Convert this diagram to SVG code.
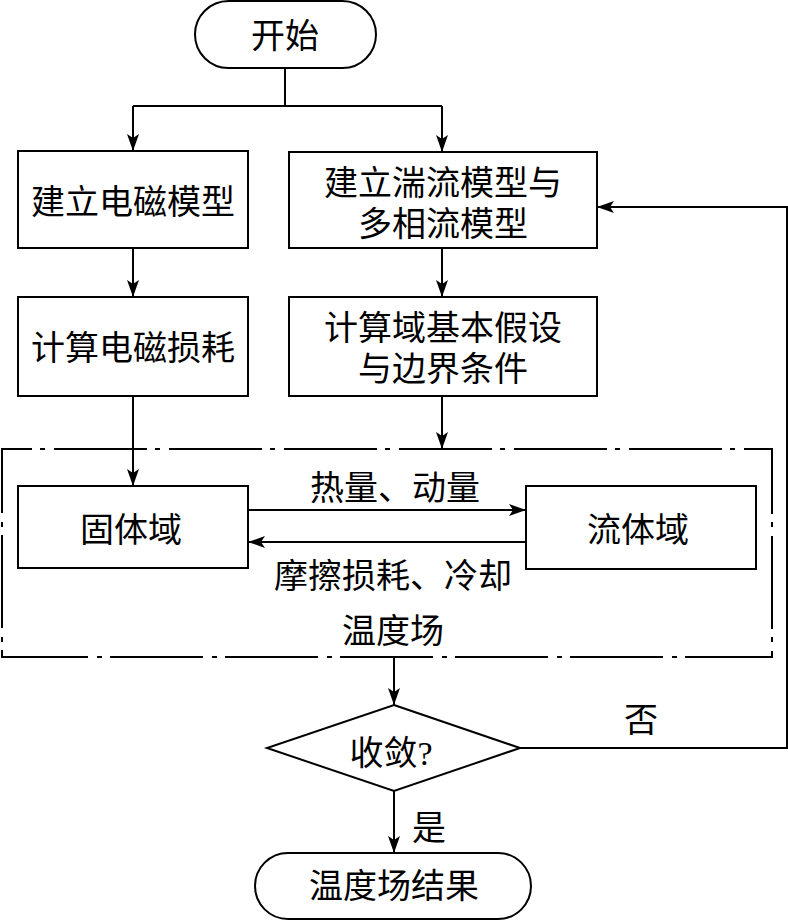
<svg xmlns="http://www.w3.org/2000/svg" width="788" height="921" viewBox="0 0 788 921">
<defs>
<marker id="ah" viewBox="0 0 17 12" refX="17" refY="6" markerWidth="17" markerHeight="12" markerUnits="userSpaceOnUse" orient="auto">
<path d="M0,0 L17,6 L0,12 L4,6 Z" fill="#000"/>
</marker>
<style>
.n{fill:#fff;stroke:#000;stroke-width:2}
.t{font-family:"Liberation Serif","Noto Sans CJK SC",serif;font-size:34px;fill:#000;text-anchor:middle}
.c{fill:none;stroke:#000;stroke-width:2}
.a{marker-end:url(#ah)}
.dd{fill:none;stroke:#000;stroke-width:2;stroke-dasharray:93 8 5 9;stroke-dashoffset:63}
</style>
</defs>
<rect width="788" height="921" fill="#fff"/>
<g id="region">
<path class="dd" d="M2,449 H772 V657 H2 Z"/>
</g>
<g id="connectors">
<path class="c" d="M285,68 V106"/>
<path class="c a" d="M133,106 H442 M133,106 V151"/>
<path class="c a" d="M442,106 V152"/>
<path class="c a" d="M133,248 V297"/>
<path class="c a" d="M442,248 V297"/>
<path class="c a" d="M133,396 V486"/>
<path class="c a" d="M442,396 V449"/>
<path class="c a" d="M248,510 H526"/>
<path class="c a" d="M526,542 H248"/>
<path class="c a" d="M394,657 V705"/>
<path class="c a" d="M394,791 V853"/>
<path class="c a" d="M520,748 H787 V207 H597"/>
<text class="t" x="395" y="500">热量、动量</text>
<text class="t" x="393" y="588">摩擦损耗、冷却</text>
<text class="t" x="393" y="643">温度场</text>
<text class="t" x="641" y="732">否</text>
<text class="t" x="429" y="840">是</text>
</g>
<g id="start">
<rect class="n" x="195" y="1" width="181" height="67" rx="33.5"/>
<text class="t" x="285" y="48">开始</text>
</g>
<g id="em-model">
<rect class="n" x="18" y="151" width="230" height="97"/>
<text class="t" x="133" y="214">建立电磁模型</text>
</g>
<g id="flow-model">
<rect class="n" x="289" y="152" width="308" height="96"/>
<text class="t" x="443" y="195">建立湍流模型与</text>
<text class="t" x="443" y="236">多相流模型</text>
</g>
<g id="em-loss">
<rect class="n" x="18" y="297" width="230" height="99"/>
<text class="t" x="133" y="360">计算电磁损耗</text>
</g>
<g id="assume">
<rect class="n" x="289" y="297" width="308" height="99"/>
<text class="t" x="443" y="340">计算域基本假设</text>
<text class="t" x="443" y="381">与边界条件</text>
</g>
<g id="solid">
<rect class="n" x="18" y="486" width="230" height="82"/>
<text class="t" x="131" y="542">固体域</text>
</g>
<g id="fluid">
<rect class="n" x="526" y="486" width="230" height="83"/>
<text class="t" x="638" y="542">流体域</text>
</g>
<g id="converge">
<path class="n" d="M394,705 L520,748 L394,791 L267,748 Z"/>
<text class="t" x="391" y="765">收敛?</text>
</g>
<g id="end">
<rect class="n" x="255" y="853" width="276" height="66" rx="33"/>
<text class="t" x="394" y="898">温度场结果</text>
</g>
</svg>
